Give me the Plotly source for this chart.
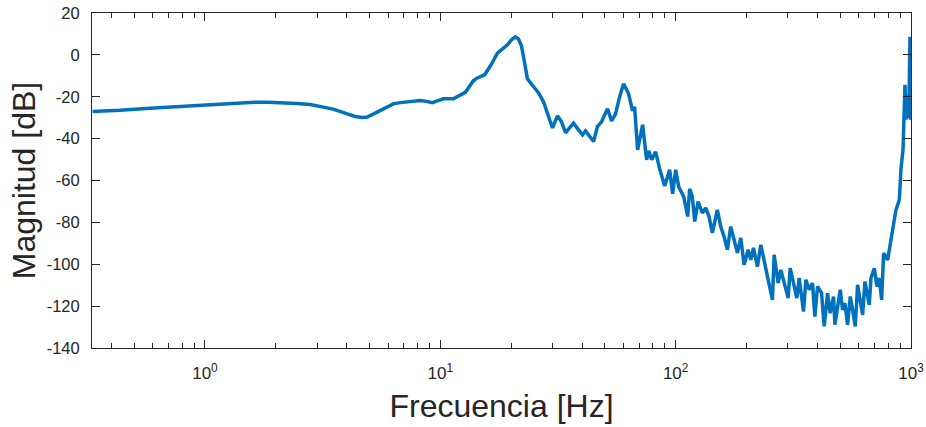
import plotly.graph_objects as go

freq_hz = [
    0.333, 0.435, 0.583, 0.745, 1.0, 1.278, 1.554, 1.854, 2.147, 2.463,
    2.798, 3.147, 3.505, 4.021, 4.347, 4.656, 4.891, 5.187, 5.556, 5.951,
    6.310, 6.757, 7.677, 8.220, 8.718, 9.247, 9.71, 10.30, 11.36, 11.93,
    12.78, 13.82, 14.37, 15.39, 16.32, 17.48, 19.28, 20.05, 20.85, 21.47,
    22.12, 22.77, 23.46, 24.87, 26.12, 27.44, 28.82, 29.97, 31.47, 32.73,
    34.03, 35.39, 36.81, 38.66, 40.21, 41.40, 43.06, 44.78, 46.56, 48.43,
    49.88, 51.36, 53.42, 55.55, 57.77, 60.08, 63.10, 65.61, 66.91, 68.92,
    72.38, 75.27, 76.76, 79.06, 82.21, 85.50, 89.80, 94.30, 97.10, 100.0,
    103.0, 108.2, 112.5, 114.7,
    117.7, 120.5, 124.5, 129.9, 134.2, 138.6, 143.2, 150.4, 155.4, 160.6,
    165.9, 171.4, 177.1, 183.0, 189.1, 195.4, 203.2, 208.5, 214.1, 222.6,
    230.0, 239.2, 249.6, 257.8, 262.1, 272.6, 279.8, 290.9, 300.6, 306.6,
    318.8, 327.3, 334.8, 349.4, 357.5, 369.4, 381.6, 390.4, 400.7, 416.8,
    427.8, 442.0, 453.7, 468.8, 475.0, 500.5, 512.1, 523.9, 537.8, 552.0,
    564.8, 579.7, 593.1, 608.8, 622.9, 637.3, 664.9, 675.8, 698.3, 716.7,
    733.3, 750.3, 765.1, 795.7, 822.1, 841.1, 863.4, 892.1,
    906.6, 924.7, 933.9, 943.0, 952.2, 961.6, 971.0, 980.6, 990.2, 995.1,
    1000.0,
]

magnitude_db = [
    -27.0, -26.5, -25.5, -24.8, -24.1, -23.2, -22.7, -22.6, -22.8, -23.2,
    -23.7, -24.8, -25.9, -28.2, -29.4, -29.9, -29.7, -28.3, -26.5, -24.7,
    -23.4, -22.8, -22.4, -21.8, -22.2, -22.8, -22.0, -21.0, -21.0, -19.8,
    -17.9, -12.4, -11.0, -9.6, -5.3, 0.8, 4.8, 7.2, 8.6, 7.6,
    4.3, -3.3, -11.5, -15.1, -18.1, -22.4, -30.1, -34.9, -29.1, -32.0,
    -37.2, -34.9, -32.6, -35.8, -38.2, -36.3, -38.7, -41.4, -34.1, -32.0,
    -28.7, -25.8, -31.5, -28.2, -20.1, -13.8, -18.6, -26.7, -24.8, -45.4,
    -33.4, -50.1, -45.8, -50.1, -46.3, -54.4, -62.6, -54.9, -66.4, -54.9,
    -62.9, -67.7, -77.2, -64.0,
    -67.7, -79.6, -70.1, -75.5, -73.1, -77.2, -85.0, -74.0, -82.0, -86.8,
    -93.1, -82.0, -88.3, -94.6, -87.4, -100.3, -93.1, -97.9, -92.2, -101.1,
    -90.7, -100.3, -109.0, -117.0, -95.5, -109.0, -102.7, -110.6, -116.2, -101.9,
    -110.6, -116.2, -106.6, -122.6, -107.4, -112.2, -109.0, -125.0, -110.6, -113.8,
    -129.7, -113.8, -123.4, -115.4, -128.9, -112.2, -121.8, -118.6, -128.9, -115.4,
    -121.8, -129.7, -109.8, -118.6, -124.2, -108.3, -119.4, -106.6, -101.9, -110.6,
    -106.6, -117.0, -94.7, -97.9, -88.3, -83.6, -74.0, -69.2,
    -54.4, -45.4, -33.4, -14.3, -31.0, -19.1, -30.1, -21.5, 8.6, -31.0,
    -26.3,
]

x_tick_vals = [1, 10, 100, 1000]
x_tick_text = ["10<sup>0</sup>", "10<sup>1</sup>", "10<sup>2</sup>", "10<sup>3</sup>"]
x_minor_vals = [k * 10 ** d for d in (-1, 0, 1, 2) for k in range(2, 10) if k * 10 ** d >= 0.34]
y_tick_vals = [-140, -120, -100, -80, -60, -40, -20, 0, 20]
y_tick_text = [str(v) for v in y_tick_vals]

axis_color = "#262626"
font_family = "Liberation Sans, Arial, Helvetica, sans-serif"

fig = go.Figure()
fig.add_trace(go.Scatter(
    x=freq_hz, y=magnitude_db, mode="lines",
    line=dict(color="#0072BD", width=3.5),
    showlegend=False, hoverinfo="x+y",
))

fig.update_layout(
    width=926, height=427,
    margin=dict(l=92, r=15, t=13, b=79, autoexpand=False),
    paper_bgcolor="white", plot_bgcolor="white",
    font=dict(family=font_family, color=axis_color, size=16.5),
    xaxis=dict(
        type="log",
        range=[-0.48, 3.0],
        automargin=False,
        tickmode="array", tickvals=x_tick_vals, ticktext=x_tick_text,
        ticks="inside", ticklen=8, tickwidth=1, tickcolor=axis_color,
        minor=dict(tickmode="array", tickvals=x_minor_vals, ticks="inside",
                   ticklen=5, tickwidth=1, tickcolor=axis_color, showgrid=False),
        showline=True, linecolor=axis_color, linewidth=1, mirror="ticks",
        showgrid=False, zeroline=False,
        ticklabelstandoff=10,
        tickfont=dict(size=17, color=axis_color),
        title=dict(text="Frecuencia [Hz]", font=dict(size=32, color=axis_color), standoff=12),
    ),
    yaxis=dict(
        range=[-140, 20],
        automargin=False,
        tickmode="array", tickvals=y_tick_vals, ticktext=y_tick_text,
        ticks="inside", ticklen=8, tickwidth=1, tickcolor=axis_color,
        showline=True, linecolor=axis_color, linewidth=1, mirror="ticks",
        showgrid=False, zeroline=False,
        ticklabelstandoff=8,
        tickfont=dict(size=16.5, color=axis_color),
        title=dict(text="Magnitud [dB]", font=dict(size=32, color=axis_color), standoff=1),
    ),
)

fig.write_html("out.html")
